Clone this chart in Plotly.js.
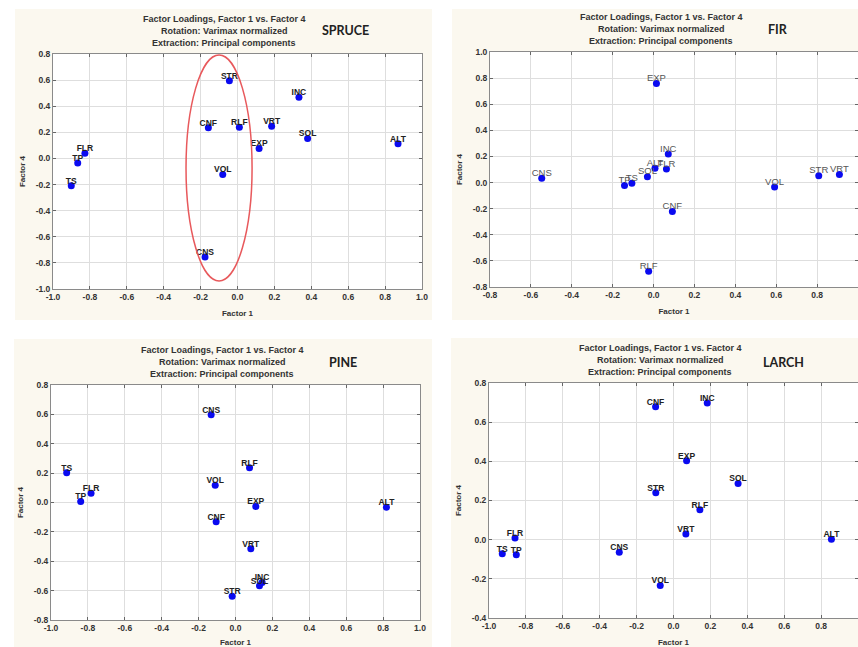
<!DOCTYPE html>
<html>
<head>
<meta charset="utf-8">
<script src="https://cdn.plot.ly/plotly-3.0.1.min.js"></script>
<style>html,body{margin:0;padding:0;background:#fff;}#chart{width:858px;height:647px;}</style>
</head>
<body>
<div id="chart"></div>
<script>
// ---------------- DATA ----------------
const spruceLabels = ["STR","INC","CNF","RLF","VRT","SOL","EXP","ALT","FLR","TP","TS","VOL","CNS"];
const spruceF1 = [-0.044, 0.333, -0.158, 0.010, 0.185, 0.380, 0.117, 0.870, -0.827, -0.866, -0.901, -0.080, -0.176];
const spruceF4 = [0.596, 0.469, 0.236, 0.239, 0.247, 0.152, 0.076, 0.112, 0.040, -0.034, -0.210, -0.123, -0.755];

const firLabels = ["EXP","INC","ALT","FLR","SOL","TS","TP","CNS","CNF","RLF","VOL","STR","VRT"];
const firF1 = [0.014, 0.072, 0.007, 0.063, -0.030, -0.106, -0.142, -0.547, 0.092, -0.024, 0.592, 0.808, 0.909];
const firF4 = [0.758, 0.218, 0.109, 0.104, 0.045, -0.006, -0.023, 0.033, -0.222, -0.680, -0.034, 0.053, 0.061];

const pineLabels = ["CNS","TS","FLR","TP","RLF","VOL","EXP","ALT","CNF","VRT","INC","SOL","STR"];
const pineF1 = [-0.132, -0.915, -0.783, -0.839, 0.076, -0.110, 0.110, 0.818, -0.105, 0.083, 0.144, 0.130, -0.018];
const pineF4 = [0.598, 0.202, 0.063, 0.007, 0.236, 0.118, -0.027, -0.032, -0.131, -0.315, -0.544, -0.567, -0.639];

const larchLabels = ["CNF","INC","EXP","SOL","STR","RLF","VRT","ALT","FLR","TS","TP","CNS","VOL"];
const larchF1 = [-0.097, 0.183, 0.071, 0.350, -0.096, 0.143, 0.067, 0.856, -0.859, -0.928, -0.852, -0.294, -0.072];
const larchF4 = [0.679, 0.698, 0.403, 0.287, 0.240, 0.153, 0.029, 0.002, 0.009, -0.072, -0.077, -0.064, -0.234];

const ticksX_m1_1 = [-1.0,-0.8,-0.6,-0.4,-0.2,0.0,0.2,0.4,0.6,0.8,1.0];
const ticksX_m08_1 = [-0.8,-0.6,-0.4,-0.2,0.0,0.2,0.4,0.6,0.8,1.0];
const ticksY_spruce = [-1.0,-0.8,-0.6,-0.4,-0.2,0.0,0.2,0.4,0.6,0.8];
const ticksY_fir = [-0.8,-0.6,-0.4,-0.2,0.0,0.2,0.4,0.6,0.8,1.0];
const ticksY_pine = [-0.8,-0.6,-0.4,-0.2,0.0,0.2,0.4,0.6,0.8];
const ticksY_larch = [-0.4,-0.2,0.0,0.2,0.4,0.6,0.8];

const titleLines = ["Factor Loadings, Factor 1 vs. Factor 4","Rotation: Varimax normalized","Extraction: Principal components"];
const speciesNames = ["SPRUCE","FIR","PINE","LARCH"];
const xTitle = "Factor 1";
const yTitle = "Factor 4";

// ---------------- LAYOUT HELPERS ----------------
const W = 858, H = 647;
const px = v => v / W;
const py = v => 1 - v / H;
const FONT = "Liberation Sans, Arial, sans-serif";
const beige = "#fbf8ef";
const fmt = v => v.toFixed(1);

function mkX(dom, range, ticks, anchor, standoff, title) {
  return {
    domain: dom, range: range, anchor: anchor,
    tickmode: "array", tickvals: ticks, ticktext: ticks.map(fmt),
    tickfont: {family: FONT, size: 8.5, color: "#333", weight: "bold"},
    ticks: "inside", ticklen: 3, tickcolor: "#666", mirror: "allticks",
    showline: true, linecolor: "#8a8a8a", linewidth: 1,
    showgrid: true, gridcolor: "#dedede", gridwidth: 1, zeroline: false,
    automargin: false, fixedrange: true,
    title: {text: title, font: {family: FONT, size: 8, color: "#333", weight: "bold"}, standoff: standoff}
  };
}

function markers(x, y, xa, ya) {
  return {
    type: "scatter", mode: "markers", x: x, y: y, xaxis: xa, yaxis: ya,
    marker: {color: "#0a0af0", size: 7, line: {width: 0}},
    hoverinfo: "skip", showlegend: false, cliponaxis: false
  };
}
function labels(x, y, txt, xa, ya, bold) {
  return {
    type: "scatter", mode: "text", x: x, y: y, text: txt,
    xaxis: xa, yaxis: ya, textposition: "top center", cliponaxis: false,
    textfont: bold ? {family: FONT, size: 8.5, color: "#222", weight: "bold"}
                   : {family: FONT, size: 9.5, color: "#555"},
    hoverinfo: "skip", showlegend: false
  };
}

const data = [
  markers(spruceF1, spruceF4, "x", "y"),
  labels(spruceF1, spruceF4, spruceLabels, "x", "y", true),
  markers(firF1, firF4, "x2", "y2"),
  labels(firF1, firF4, firLabels, "x2", "y2", false),
  markers(pineF1, pineF4, "x3", "y3"),
  labels(pineF1, pineF4, pineLabels, "x3", "y3", true),
  markers(larchF1, larchF4, "x4", "y4"),
  labels(larchF1, larchF4, larchLabels, "x4", "y4", true)
];

// panel geometry (pixels)
const panels = [
  {bg:[15,9,432,320],  plot:[53,54,422,289],  tc:224, ty:[19,31,43], sx:345, sy:31},
  {bg:[452,9,858,320], plot:[490,52,858,287], tc:661, ty:[17,29,41], sx:778, sy:29},
  {bg:[14,339,432,647],plot:[51,385,420,620], tc:222, ty:[350,362,374], sx:343, sy:362},
  {bg:[451,338,858,647],plot:[489,383,858,618], tc:660, ty:[348,360,372], sx:783, sy:362}
];

const shapes = [];
const annotations = [];
panels.forEach((p, i) => {
  shapes.push({type:"rect", xref:"paper", yref:"paper", layer:"below",
    x0:px(p.bg[0]), x1:px(p.bg[2]), y0:py(p.bg[3]), y1:py(p.bg[1]),
    fillcolor: beige, line:{width:0}});
  shapes.push({type:"rect", xref:"paper", yref:"paper", layer:"below",
    x0:px(p.plot[0]), x1:px(p.plot[2]), y0:py(p.plot[3]), y1:py(p.plot[1]),
    fillcolor:"#ffffff", line:{width:0}});
  titleLines.forEach((t, k) => {
    annotations.push({xref:"paper", yref:"paper", x:px(p.tc), y:py(p.ty[k]), text:t,
      showarrow:false, xanchor:"center", yanchor:"middle",
      font:{family:FONT, size:9, color:"#333", weight:"bold"}});
  });
  annotations.push({xref:"paper", yref:"paper", x:px(p.sx), y:py(p.sy), text:speciesNames[i],
    showarrow:false, xanchor:"center", yanchor:"middle",
    font:{family:"Lato, Open Sans, sans-serif", size:12.5, color:"#222", weight:"bold"}});
});
// red ellipse highlighting the central group in SPRUCE
shapes.push({type:"circle", xref:"x", yref:"y", layer:"above",
  x0:-0.279, x1:0.079, y0:-0.938, y1:0.792, line:{color:"#e8595c", width:1.5}});

const dom = (a, b) => [a, b];
const layout = {
  width: W, height: H, margin: {l:0, r:0, t:0, b:0},
  paper_bgcolor: "#ffffff", plot_bgcolor: "rgba(0,0,0,0)",
  showlegend: false, font: {family: FONT},
  xaxis:  mkX(dom(px(53), px(422)), [-1.0, 1.0], ticksX_m1_1, "y", 9, xTitle),
  yaxis:  mkX(dom(py(289), py(54)), [-1.0, 0.8], ticksY_spruce, "x", 8, yTitle),
  xaxis2: mkX(dom(px(490), 1), [-0.8, 1.0], ticksX_m08_1, "y2", 9, xTitle),
  yaxis2: mkX(dom(py(287), py(52)), [-0.8, 1.0], ticksY_fir, "x2", 8, yTitle),
  xaxis3: mkX(dom(px(51), px(420)), [-1.0, 1.0], ticksX_m1_1, "y3", 9, xTitle),
  yaxis3: mkX(dom(py(620), py(385)), [-0.8, 0.8], ticksY_pine, "x3", 8, yTitle),
  xaxis4: mkX(dom(px(489), 1), [-1.0, 1.0], ticksX_m1_1, "y4", 9, xTitle),
  yaxis4: mkX(dom(py(618), py(383)), [-0.4, 0.8], ticksY_larch, "x4", 8, yTitle),
  shapes: shapes, annotations: annotations
};

Plotly.newPlot("chart", data, layout, {displayModeBar: false, staticPlot: true});
</script>
</body>
</html>
